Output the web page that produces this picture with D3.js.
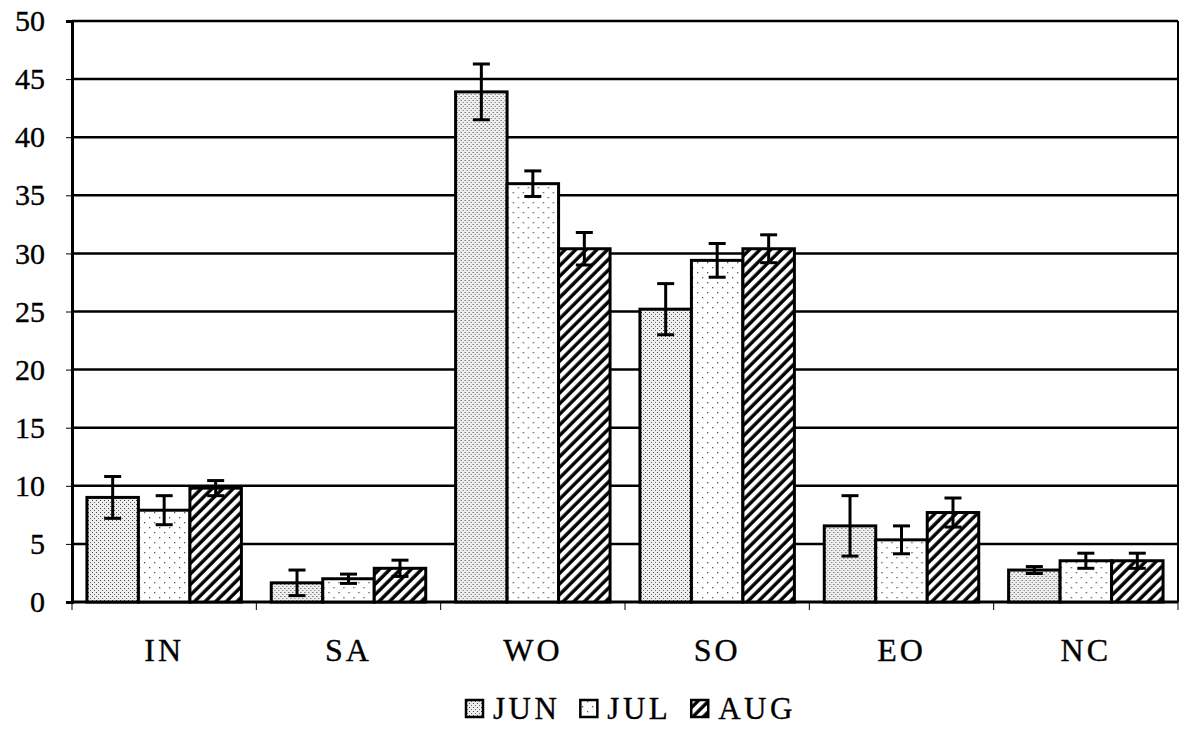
<!DOCTYPE html>
<html>
<head>
<meta charset="utf-8">
<script src="https://cdn.jsdelivr.net/npm/d3@7"></script>
<style>
  html, body { margin: 0; padding: 0; background: #fff; }
  svg { display: block; }
  text { font-family: "Liberation Serif", "Times New Roman", serif; fill: #000; stroke: #000; stroke-width: 0.35px; }
</style>
</head>
<body>
<svg id="chart" width="1180" height="731"></svg>
<script>
const categories = ["IN", "SA", "WO", "SO", "EO", "NC"];
const seriesNames = ["JUN", "JUL", "AUG"];
const junValues = [9.0, 1.65, 43.9, 25.2, 6.55, 2.75];
const julValues = [7.9, 2.0, 36.0, 29.4, 5.35, 3.55];
const augValues = [9.8, 2.9, 30.4, 30.4, 7.7, 3.55];
const junErrors = [1.8, 1.1, 2.4, 2.2, 2.6, 0.3];
const julErrors = [1.25, 0.4, 1.1, 1.45, 1.2, 0.65];
const augErrors = [0.65, 0.7, 1.4, 1.2, 1.25, 0.65];
const yTicks = [0, 5, 10, 15, 20, 25, 30, 35, 40, 45, 50];

const values = [junValues, julValues, augValues];
const errors = [junErrors, julErrors, augErrors];

const svg = d3.select("#chart");
const mLeft = 72, mRight = 1178, mTop = 21, mBottom = 602;

const x0 = d3.scaleBand().domain(categories).range([mLeft, mRight]).paddingInner(0).paddingOuter(0);
const x1 = d3.scaleBand().domain(seriesNames).range([0, x0.bandwidth()]).paddingInner(0).paddingOuter(0.29);
const y = d3.scaleLinear().domain([0, 50]).range([mBottom, mTop]);

// patterns
const defs = svg.append("defs");
const pJun = defs.append("pattern").attr("id", "pJUN").attr("patternUnits", "userSpaceOnUse")
  .attr("width", 4).attr("height", 4);
pJun.append("rect").attr("width", 4).attr("height", 4).attr("fill", "#eeeeee");
pJun.append("rect").attr("x", 0).attr("y", 0).attr("width", 1).attr("height", 1).attr("fill", "#444");
pJun.append("rect").attr("x", 2).attr("y", 2).attr("width", 1).attr("height", 1).attr("fill", "#666");

const pJul = defs.append("pattern").attr("id", "pJUL").attr("patternUnits", "userSpaceOnUse")
  .attr("width", 10).attr("height", 10);
pJul.append("rect").attr("width", 10).attr("height", 10).attr("fill", "#fff");
pJul.append("rect").attr("x", 2).attr("y", 2).attr("width", 1.3).attr("height", 1.3).attr("fill", "#555");
pJul.append("rect").attr("x", 7).attr("y", 7).attr("width", 1.3).attr("height", 1.3).attr("fill", "#555");

const pAug = defs.append("pattern").attr("id", "pAUG").attr("patternUnits", "userSpaceOnUse")
  .attr("width", 7.5).attr("height", 7.5).attr("patternTransform", "rotate(45)");
pAug.append("rect").attr("width", 7.5).attr("height", 7.5).attr("fill", "#fff");
pAug.append("line").attr("x1", 2).attr("y1", 0).attr("x2", 2).attr("y2", 7.5)
  .attr("stroke", "#000").attr("stroke-width", 3.4);

const fills = { JUN: "url(#pJUN)", JUL: "url(#pJUL)", AUG: "url(#pAUG)" };

// gridlines
svg.append("g").selectAll("line").data(yTicks.filter(d => d > 0)).join("line")
  .attr("x1", mLeft).attr("x2", mRight)
  .attr("y1", d => y(d)).attr("y2", d => y(d))
  .attr("stroke", "#000").attr("stroke-width", 2.5);

// right border
svg.append("line").attr("x1", mRight).attr("x2", mRight).attr("y1", y(50)).attr("y2", y(0))
  .attr("stroke", "#000").attr("stroke-width", 2);

// y axis
const yAxis = d3.axisLeft(y).tickValues(yTicks).tickSize(6).tickPadding(21).tickFormat(d3.format("d"));
const yg = svg.append("g").attr("transform", `translate(${mLeft},0)`).call(yAxis);
yg.attr("font-family", "Liberation Serif");
yg.select(".domain").attr("stroke", "#000").attr("stroke-width", 3);
yg.selectAll(".tick line").attr("stroke", "#000").attr("stroke-width", 1);
yg.selectAll(".tick text").attr("font-size", 30);

// x axis
const xg = svg.append("g").attr("transform", `translate(0,${mBottom})`);
xg.append("line").attr("x1", mLeft).attr("x2", mRight).attr("y1", 0).attr("y2", 0)
  .attr("stroke", "#000").attr("stroke-width", 3);
const catTicks = categories.map(c => x0(c)).concat([mRight]);
xg.selectAll("line.ct").data(catTicks).join("line").attr("class", "ct")
  .attr("x1", d => d).attr("x2", d => d).attr("y1", 0).attr("y2", 8)
  .attr("stroke", "#000").attr("stroke-width", 1);
xg.selectAll("text").data(categories).join("text")
  .attr("x", d => x0(d) + x0.bandwidth() / 2)
  .attr("y", 59)
  .attr("text-anchor", "middle")
  .attr("font-size", 32)
  .attr("letter-spacing", 3)
  .text(d => d);

// bars
const groups = svg.append("g").selectAll("g").data(categories).join("g")
  .attr("transform", d => `translate(${x0(d)},0)`);
groups.selectAll("rect").data((d, i) => seriesNames.map((s, j) => ({ s, v: values[j][i], e: errors[j][i] })))
  .join("rect")
  .attr("x", d => x1(d.s))
  .attr("y", d => y(d.v))
  .attr("width", x1.bandwidth())
  .attr("height", d => y(0) - y(d.v))
  .attr("fill", d => fills[d.s])
  .attr("stroke", "#000").attr("stroke-width", 3);

// error bars
const capW = 17;
const eb = groups.selectAll("g.err").data((d, i) => seriesNames.map((s, j) => ({ s, v: values[j][i], e: errors[j][i] })))
  .join("g").attr("class", "err");
eb.append("line")
  .attr("x1", d => x1(d.s) + x1.bandwidth() / 2).attr("x2", d => x1(d.s) + x1.bandwidth() / 2)
  .attr("y1", d => y(d.v + d.e)).attr("y2", d => y(d.v - d.e))
  .attr("stroke", "#000").attr("stroke-width", 3);
eb.append("line")
  .attr("x1", d => x1(d.s) + x1.bandwidth() / 2 - capW / 2).attr("x2", d => x1(d.s) + x1.bandwidth() / 2 + capW / 2)
  .attr("y1", d => y(d.v + d.e)).attr("y2", d => y(d.v + d.e))
  .attr("stroke", "#000").attr("stroke-width", 3);
eb.append("line")
  .attr("x1", d => x1(d.s) + x1.bandwidth() / 2 - capW / 2).attr("x2", d => x1(d.s) + x1.bandwidth() / 2 + capW / 2)
  .attr("y1", d => y(d.v - d.e)).attr("y2", d => y(d.v - d.e))
  .attr("stroke", "#000").attr("stroke-width", 3);

// legend
const legend = svg.append("g").attr("transform", "translate(465,719)");
let lx = 0;
seriesNames.forEach(s => {
  legend.append("rect").attr("x", lx + 1).attr("y", -19).attr("width", 17).attr("height", 17)
    .attr("fill", fills[s]).attr("stroke", "#000").attr("stroke-width", 2.5);
  const t = legend.append("text").attr("x", lx + 28).attr("y", 0)
    .attr("font-size", 31).attr("letter-spacing", 3.5).text(s);
  lx += 28 + t.node().getComputedTextLength() + 19;
});
</script>
</body>
</html>
